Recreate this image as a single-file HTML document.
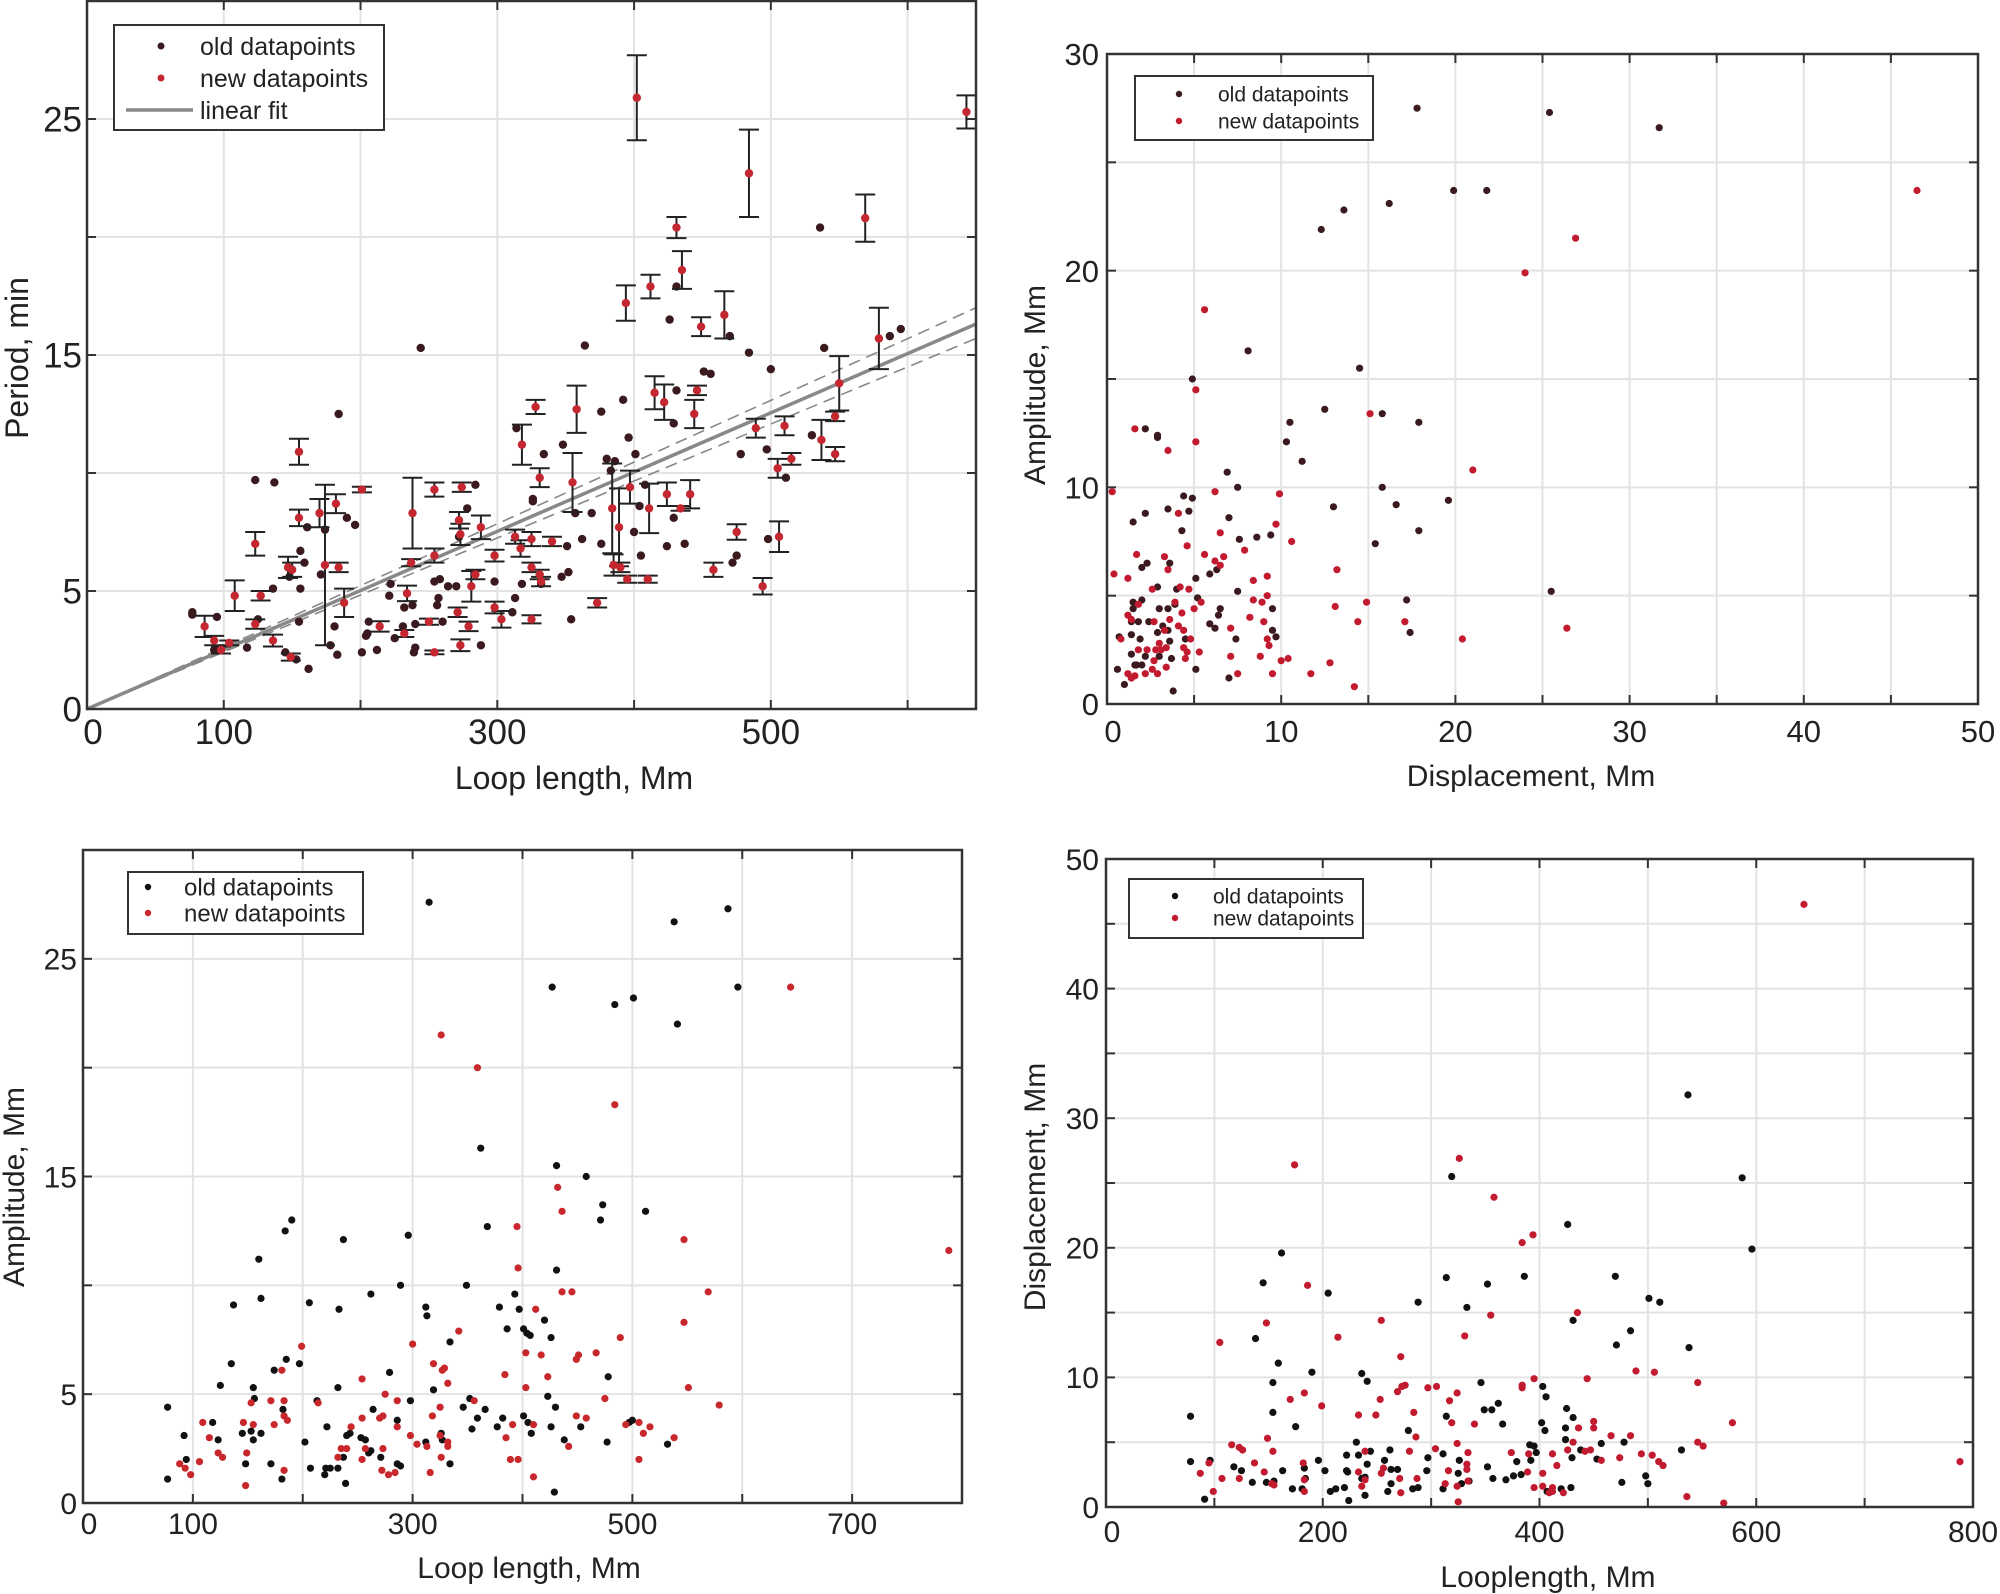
<!DOCTYPE html>
<html><head><meta charset="utf-8"><style>
html,body{margin:0;padding:0;background:#fff;}
svg{display:block;font-family:"Liberation Sans",sans-serif;}
</style></head><body>
<svg id="fig" width="2000" height="1594" viewBox="0 0 2000 1594" xmlns="http://www.w3.org/2000/svg"></svg>
<script>
// ---------- Panel 1: Period vs loop length ----------
const p1OldPts=[[536,20.4],[431,17.9],[426,16.5],[470,15.8],[484,15.1],[539,15.3],[244,15.3],[364,15.4],[500,14.4],[595,16.1],[587,15.8],[451,14.3],[456,14.2],[431,13.5],[392,13.1],[376,12.6],[184,12.5],[314,11.9],[429,12.1],[396,11.5],[530,11.6],[348,11.2],[401,10.8],[478,10.8],[497,11.0],[380,10.6],[386,10.5],[334,10.8],[123,9.7],[137,9.6],[511,9.8],[408,9.5],[284,9.5],[383,10.1],[326,8.9],[326,8.8],[404,8.6],[278,8.5],[369,8.3],[429,8.1],[357,8.3],[190,8.1],[196,7.8],[161,7.7],[174,7.6],[400,7.5],[498,7.2],[437,7.0],[424,6.9],[362,7.2],[272,7.3],[351,6.9],[376,7.0],[405,6.5],[475,6.5],[156,6.7],[472,6.2],[159,6.2],[171,5.7],[352,5.8],[347,5.6],[136,5.1],[148,5.6],[156,5.1],[222,5.3],[221,4.8],[264,5.2],[270,5.2],[254,5.4],[258,5.5],[257,4.7],[298,5.4],[318,5.3],[313,4.7],[232,4.3],[238,4.4],[256,4.4],[332,5.3],[77,4.1],[77,4.0],[95,3.9],[125,3.8],[155,3.7],[206,3.7],[240,3.6],[260,3.7],[311,4.1],[354,3.8],[205,3.2],[225,3.0],[231,3.5],[204,3.1],[117,2.6],[93,2.5],[181,3.5],[201,2.4],[212,2.5],[240,2.6],[288,2.7],[183,2.3],[145,2.4],[153,2.1],[162,1.7],[239,2.4],[178,2.7]];
const p1NewPts=[[402,25.9],[643,25.3],[484,22.7],[569,20.8],[431,20.4],[435,18.6],[412,17.9],[394,17.2],[466,16.7],[449,16.2],[579,15.7],[550,13.8],[415,13.4],[422,13.0],[446,13.5],[444,12.5],[358,12.7],[328,12.8],[547,12.4],[510,12.0],[489,11.9],[318,11.2],[155,10.9],[537,11.4],[547,10.8],[505,10.2],[515,10.6],[331,9.8],[355,9.6],[201,9.3],[238,8.3],[254,9.3],[274,9.4],[397,9.4],[424,9.1],[441,9.1],[411,8.5],[434,8.5],[384,8.5],[155,8.1],[174,6.1],[170,8.3],[182,8.7],[272,8.0],[288,7.7],[313,7.3],[273,7.4],[325,7.2],[340,7.1],[123,7.0],[389,7.7],[475,7.5],[506,7.3],[317,6.8],[254,6.5],[298,6.5],[237,6.2],[147,6.0],[150,5.9],[184,6.0],[325,6.0],[385,6.1],[390,6.0],[331,5.7],[332,5.4],[284,5.7],[458,5.9],[395,5.5],[410,5.5],[494,5.2],[281,5.2],[108,4.8],[127,4.8],[234,4.9],[271,4.1],[298,4.3],[373,4.5],[188,4.5],[214,3.5],[232,3.2],[250,3.7],[279,3.5],[303,3.8],[325,3.8],[86,3.5],[93,2.9],[104,2.8],[123,3.6],[136,2.9],[98,2.5],[149,2.2],[254,2.4],[273,2.7]];
const p1NewErr=[1.8,0.7,1.85,1.0,0.45,0.8,0.5,0.75,1.0,0.4,1.3,1.15,0.7,0.75,0.2,0.6,1.0,0.3,0.2,0.4,0.4,0.85,0.55,0.85,0.3,0.4,0.25,0.4,1.25,0.12,1.5,0.3,0.2,0.7,0.5,0.6,1.05,0.1,1.9,0.35,3.4,0.6,0.4,0.35,0.5,0.3,0.45,0.3,0.2,0.5,1.65,0.33,0.65,0.35,0.3,0.25,0.15,0.45,0.3,0.2,0.2,0.45,0.2,0.2,0.2,0.2,0.3,0.15,0.15,0.35,0.65,0.65,0.2,0.33,0.2,0.25,0.2,0.6,0.22,0.15,0.13,0.2,0.35,0.17,0.45,0.2,0.1,0.2,0.25,0.15,0.15,0.08,0.25];
const p1FitSlope=[0.0251];
const p1FitBandEnd=[17.0,15.7];
const p1XGrid=[100,200,300,400,500,600];
const p1XLabels=[0,100,300,500];
const p1YGrid=[5,10,15,20,25];
const p1YLabels=[0,5,15,25];

// ---------- Panel 2: Amplitude vs displacement ----------
const p2OldPts=[[17.8,27.5],[25.4,27.3],[31.7,26.6],[19.9,23.7],[21.8,23.7],[16.2,23.1],[13.6,22.8],[12.3,21.9],[8.1,16.3],[14.5,15.5],[4.9,15.0],[12.5,13.6],[15.8,13.4],[17.9,13.0],[10.5,13.0],[10.3,12.1],[11.2,11.2],[2.2,12.7],[2.9,12.4],[2.9,12.3],[6.9,10.7],[7.5,10.0],[15.8,10.0],[13.0,9.1],[16.6,9.2],[19.6,9.4],[4.4,9.6],[4.9,9.5],[3.5,9.0],[4.7,8.9],[2.2,8.8],[1.5,8.4],[7.0,8.6],[4.3,8.0],[7.6,7.6],[8.6,7.7],[9.4,7.8],[17.9,8.0],[15.4,7.4],[3.6,6.5],[2.3,6.5],[2.0,6.3],[6.3,6.2],[5.9,6.0],[5.1,5.8],[2.9,5.4],[4.0,5.3],[7.5,5.2],[25.5,5.2],[17.2,4.8],[5.2,4.9],[1.5,4.7],[2.0,4.8],[1.5,4.4],[3.0,4.4],[3.5,4.4],[9.5,4.4],[3.9,4.6],[6.4,4.1],[6.5,4.4],[2.4,3.8],[1.8,3.8],[1.4,3.8],[5.9,3.7],[6.2,3.5],[9.5,3.4],[17.4,3.3],[3.2,3.6],[3.5,3.4],[2.9,3.3],[0.7,3.1],[1.4,3.2],[1.9,3.0],[4.5,3.0],[7.4,3.0],[9.7,3.1],[3.6,2.9],[1.4,2.3],[2.2,2.2],[3.0,2.2],[3.7,2.1],[1.6,1.8],[1.7,1.8],[2.0,1.8],[5.1,1.6],[0.6,1.6],[1.4,1.2],[7.0,1.2],[1.0,0.9],[3.8,0.6]];
const p2NewPts=[[46.5,23.7],[26.9,21.5],[24.0,19.9],[5.6,18.2],[5.1,14.5],[15.1,13.4],[1.6,12.7],[5.1,12.1],[3.5,11.7],[21.0,10.8],[0.3,9.8],[6.2,9.8],[9.9,9.7],[4.1,8.8],[9.7,8.3],[6.5,7.9],[10.6,7.5],[4.6,7.3],[7.9,7.1],[1.7,6.9],[5.6,6.9],[6.7,6.8],[3.3,6.8],[6.2,6.6],[6.5,6.4],[3.5,6.2],[13.2,6.2],[0.4,6.0],[1.2,5.8],[9.2,5.9],[8.4,5.7],[2.6,5.3],[4.2,5.4],[4.7,5.3],[9.2,5.0],[3.9,4.7],[8.4,4.8],[8.9,4.7],[14.9,4.7],[5.4,4.7],[1.8,4.6],[5.0,4.4],[13.1,4.5],[1.2,4.1],[1.4,3.9],[4.3,4.2],[8.2,4.0],[9.0,3.8],[14.4,3.8],[17.1,3.8],[26.4,3.5],[2.7,3.8],[3.6,3.9],[4.1,3.6],[3.3,3.4],[4.4,3.4],[7.1,3.5],[0.8,3.0],[4.8,3.0],[9.2,3.0],[20.4,3.0],[9.3,2.7],[3.0,2.8],[3.4,2.6],[4.4,2.6],[1.8,2.5],[2.3,2.5],[2.8,2.5],[3.1,2.5],[4.6,2.4],[5.3,2.4],[7.1,2.2],[8.8,2.2],[4.5,2.1],[2.7,2.0],[10.0,2.0],[10.4,2.1],[12.8,1.9],[3.4,1.7],[2.6,1.6],[2.9,1.4],[2.2,1.4],[1.2,1.4],[1.6,1.3],[7.5,1.4],[9.5,1.4],[11.7,1.4],[1.4,1.2],[14.2,0.8]];
const p2XGrid=[5,10,15,20,25,30,35,40,45];
const p2XLabels=[0,10,20,30,40,50];
const p2YGrid=[5,10,15,20,25];
const p2YLabels=[0,10,20,30];

// ---------- Panel 3: Amplitude vs loop length ----------
const p3OldPts=[[315,27.6],[587,27.3],[538,26.7],[427,23.7],[596,23.7],[484,22.9],[501,23.2],[541,22.0],[362,16.3],[431,15.5],[458,15.0],[473,13.7],[471,13.0],[512,13.4],[368,12.7],[184,12.5],[190,13.0],[237,12.1],[296,12.3],[160,11.2],[431,10.7],[162,9.4],[137,9.1],[206,9.2],[262,9.6],[289,10.0],[349,10.0],[393,9.6],[233,8.9],[312,9.0],[313,8.6],[379,9.0],[397,8.9],[420,8.4],[386,8.0],[401,8.0],[404,7.8],[407,7.7],[426,7.6],[334,7.4],[135,6.4],[174,6.1],[185,6.6],[197,6.4],[125,5.4],[155,5.3],[279,6.0],[232,5.3],[319,5.2],[478,5.8],[156,4.8],[213,4.7],[298,4.7],[352,4.8],[423,4.9],[77,4.4],[182,4.3],[264,4.3],[346,4.4],[366,4.3],[430,4.4],[118,3.7],[359,3.9],[382,3.9],[401,4.0],[405,3.7],[286,3.8],[153,3.3],[145,3.2],[162,3.2],[222,3.5],[243,3.2],[253,3.0],[354,3.4],[377,3.5],[408,3.2],[426,3.5],[453,3.5],[92,3.1],[123,2.9],[155,2.9],[240,3.1],[257,2.9],[326,3.2],[327,2.9],[202,2.8],[312,2.8],[438,2.9],[477,2.8],[532,2.7],[497,3.7],[500,3.8],[262,2.4],[260,2.3],[271,2.1],[237,2.1],[94,2.0],[148,1.8],[171,1.8],[207,1.6],[221,1.6],[225,1.6],[232,1.6],[286,1.8],[289,1.7],[334,1.8],[220,1.3],[77,1.1],[181,1.1],[239,0.9],[429,0.5]];
const p3NewPts=[[644,23.7],[326,21.5],[359,20.0],[484,18.3],[432,14.5],[436,13.4],[395,12.7],[547,12.1],[788,11.6],[396,10.8],[436,9.7],[445,9.7],[569,9.7],[412,8.9],[547,8.3],[342,7.9],[489,7.6],[199,7.2],[300,7.3],[403,6.9],[417,6.8],[451,6.8],[467,6.9],[449,6.6],[319,6.4],[329,6.2],[327,6.1],[181,6.1],[384,5.9],[423,5.8],[254,5.7],[332,5.5],[275,5.0],[403,5.3],[551,5.3],[153,4.6],[171,4.7],[183,4.7],[214,4.6],[286,4.7],[356,4.7],[475,4.8],[325,4.4],[579,4.5],[109,3.7],[146,3.7],[155,3.6],[174,3.6],[183,4.0],[186,3.8],[254,3.9],[270,3.9],[273,4.0],[318,4.0],[449,4.0],[458,3.9],[506,3.7],[516,3.5],[494,3.6],[391,3.6],[410,3.6],[115,3.0],[286,3.5],[244,3.5],[298,3.1],[325,3.1],[332,2.8],[385,3.0],[510,3.2],[538,3.0],[123,2.3],[127,2.1],[149,2.3],[235,2.5],[240,2.5],[232,2.1],[257,2.5],[273,2.5],[304,2.7],[313,2.6],[332,2.6],[442,2.6],[88,1.8],[93,1.6],[106,1.9],[98,1.3],[183,1.5],[254,2.0],[326,2.1],[389,2.0],[396,2.0],[506,2.0],[272,1.5],[278,1.3],[284,1.4],[316,1.4],[148,0.8],[410,1.2]];
const p3XGrid=[100,200,300,400,500,600,700];
const p3XLabels=[0,100,300,500,700];
const p3YGrid=[5,10,15,20,25];
const p3YLabels=[0,5,15,25];

// ---------- Panel 4: Displacement vs loop length ----------
const p4OldPts=[[537,31.8],[587,25.4],[319,25.5],[596,19.9],[426,21.8],[162,19.6],[145,17.3],[314,17.7],[386,17.8],[470,17.8],[352,17.2],[205,16.5],[501,16.1],[511,15.8],[288,15.8],[333,15.4],[431,14.4],[484,13.6],[138,13.0],[471,12.5],[538,12.3],[159,11.1],[190,10.4],[236,10.3],[241,9.7],[154,9.6],[346,9.6],[403,9.3],[406,8.5],[362,8.0],[349,7.5],[356,7.5],[425,7.6],[154,7.3],[78,7.0],[314,7.0],[431,6.9],[175,6.2],[366,6.4],[402,6.5],[424,6.1],[279,5.9],[405,5.9],[231,5.0],[424,5.2],[478,5.0],[457,4.9],[391,4.8],[395,4.7],[244,4.3],[262,4.4],[438,4.4],[531,4.4],[397,4.2],[222,4.0],[233,4.0],[297,3.8],[311,4.1],[430,3.8],[453,3.7],[392,3.6],[78,3.5],[96,3.6],[196,3.6],[241,3.3],[257,3.6],[326,3.6],[379,3.5],[118,3.1],[125,2.8],[202,2.8],[222,2.8],[263,2.9],[269,2.9],[296,2.8],[352,3.1],[223,2.7],[325,2.6],[135,1.9],[148,1.9],[155,2.0],[163,2.8],[183,3.0],[236,2.2],[239,2.3],[184,2.2],[263,1.8],[328,1.8],[335,2.0],[357,2.2],[369,2.1],[376,2.4],[383,2.5],[476,1.9],[498,2.4],[500,1.8],[172,1.4],[181,1.4],[207,1.2],[212,1.4],[220,1.5],[260,1.2],[283,1.4],[288,1.5],[311,1.4],[407,1.2],[420,1.4],[429,1.5],[91,0.6],[224,0.5],[239,0.9]];
const p4NewPts=[[644,46.5],[326,26.9],[174,26.4],[358,23.9],[394,21.0],[384,20.4],[186,17.1],[254,14.4],[435,15.0],[355,14.8],[148,14.2],[331,13.2],[214,13.1],[105,12.7],[272,11.6],[489,10.5],[506,10.4],[444,9.9],[395,9.9],[546,9.6],[276,9.4],[273,9.3],[305,9.3],[297,9.2],[384,9.4],[384,9.2],[269,8.9],[324,8.8],[183,8.8],[170,8.3],[253,8.3],[317,8.2],[199,7.8],[284,7.3],[233,7.1],[249,7.1],[578,6.5],[319,6.5],[340,6.4],[450,6.6],[436,6.1],[450,6.1],[466,5.5],[484,5.5],[286,5.4],[149,5.3],[546,5.0],[431,5.0],[324,4.9],[551,4.7],[304,4.5],[116,4.8],[123,4.6],[126,4.4],[154,4.3],[239,4.3],[280,4.3],[426,4.4],[447,4.4],[442,4.3],[374,4.2],[334,4.2],[412,4.1],[494,4.1],[390,4.1],[504,4.0],[474,3.8],[457,3.6],[788,3.5],[510,3.5],[514,3.2],[95,3.4],[137,3.4],[182,3.4],[333,3.3],[416,3.2],[87,2.6],[146,2.7],[233,2.7],[254,2.6],[256,3.0],[333,2.9],[389,2.7],[403,2.6],[316,2.8],[107,2.2],[123,2.2],[183,2.1],[271,2.2],[287,2.2],[239,2.1],[313,1.8],[324,1.6],[153,1.8],[155,1.7],[236,1.6],[395,1.5],[403,1.6],[412,1.5],[334,2.0],[99,1.2],[183,1.2],[272,1.1],[409,1.1],[422,1.1],[412,1.2],[325,0.4],[536,0.8],[570,0.3]];
const p4XGrid=[100,200,300,400,500,600,700];
const p4XLabels=[0,200,400,600,800];
const p4YGrid=[5,10,15,20,25,30,35,40,45];
const p4YLabels=[0,10,20,30,40,50];

const NS="http://www.w3.org/2000/svg";
const svg=document.getElementById('fig');
function mk(tag,attrs,parent){const e=document.createElementNS(NS,tag);for(const k in attrs)e.setAttribute(k,attrs[k]);(parent||svg).appendChild(e);return e;}
function txt(s,attrs,parent){const e=mk('text',attrs,parent);e.textContent=s;return e;}

function panel(cfg){
  const g=mk('g',{});
  
  
  const sx=v=>cfg.x0+(v-cfg.xmin)/(cfg.xmax-cfg.xmin)*(cfg.x1-cfg.x0);
  const sy=v=>cfg.y0-(v-cfg.ymin)/(cfg.ymax-cfg.ymin)*(cfg.y0-cfg.y1);
  cfg.xGrid.forEach(v=>{const l=mk('line',{x1:sx(v),x2:sx(v),y1:cfg.y1,y2:cfg.y0,stroke:'#e3e3e3','stroke-width':2},g);
    
    mk('line',{x1:sx(v),x2:sx(v),y1:cfg.y0,y2:cfg.y0-9,stroke:'#333','stroke-width':2},g);
    mk('line',{x1:sx(v),x2:sx(v),y1:cfg.y1,y2:cfg.y1+9,stroke:'#333','stroke-width':2},g);});
  cfg.yGrid.forEach(v=>{const l=mk('line',{x1:cfg.x0,x2:cfg.x1,y1:sy(v),y2:sy(v),stroke:'#e3e3e3','stroke-width':2},g);
    
    mk('line',{x1:cfg.x0,x2:cfg.x0+9,y1:sy(v),y2:sy(v),stroke:'#333','stroke-width':2},g);
    mk('line',{x1:cfg.x1,x2:cfg.x1-9,y1:sy(v),y2:sy(v),stroke:'#333','stroke-width':2},g);});
  cfg.xLabels.forEach(v=>{const t=txt(String(v),{x:sx(v)+(v===cfg.xmin?6:0),y:cfg.xLabY,'text-anchor':'middle','font-size':cfg.tickFs,fill:'#222'},g);
    });
  cfg.yLabels.forEach(v=>{const t=txt(String(v),{x:cfg.yLabX,y:sy(v)+cfg.tickFs*0.36,'text-anchor':'end','font-size':cfg.tickFs,fill:'#222'},g);
    });
  const xt=txt(cfg.xTitle,{x:cfg.xTitleX,y:cfg.xTitleY,'text-anchor':'middle','font-size':cfg.titleFs,fill:'#222'},g);
  
  const yt=txt(cfg.yTitle,{x:0,y:0,'text-anchor':'middle','font-size':cfg.titleFs,fill:'#222',transform:`translate(${cfg.yTitleX},${cfg.yTitleY}) rotate(-90)`},g);
  
  return {g,sx,sy};
}
function box(cfg,g){
  const r=mk('rect',{x:cfg.x0,y:cfg.y1,width:cfg.x1-cfg.x0,height:cfg.y0-cfg.y1,fill:'none',stroke:'#333','stroke-width':2.5},g);
  
}
function dots(pts,sx,sy,color,r,g,name){
  pts.forEach(p=>{const c=mk('circle',{cx:sx(p[0]),cy:sy(p[1]),r:r,fill:color},g);
    });
}
function legend(g,L){
  const lg=mk('g',{},g);
  
  
  mk('rect',{x:L.x,y:L.y,width:L.w,height:L.h,fill:'#fff',stroke:'#333','stroke-width':2},lg);
  L.items.forEach(it=>{
    if(it.line){mk('line',{x1:L.lx1,x2:L.lx2,y1:it.y,y2:it.y,stroke:'#888','stroke-width':3.5},lg);}
    else{mk('circle',{cx:L.mx,cy:it.y,r:L.r,fill:it.color},lg);}
    const t=txt(it.label,{x:L.tx,y:it.y+L.fs*0.36,'font-size':L.fs,fill:'#222'},lg);
    
  });
}

// Panel 1
const c1={name:'period-vs-length-panel',x0:87,x1:976,y0:709,y1:1,xmin:0,xmax:650,ymin:0,ymax:30,xGrid:p1XGrid,yGrid:p1YGrid,xLabels:p1XLabels,yLabels:p1YLabels,
  tickFs:35,titleFs:32,xLabY:744,yLabX:82,xTitle:'Loop length, Mm',xTitleX:574,xTitleY:789,yTitle:'Period, min',yTitleX:28,yTitleY:358};
const P1=panel(c1);
(function(){
  const {g,sx,sy}=P1;
  const slope=p1FitSlope[0];const xe=c1.xmax;
  const fit=mk('line',{x1:sx(0),y1:sy(0),x2:sx(xe),y2:sy(slope*xe),stroke:'#888','stroke-width':3.5},g);
  
  p1FitBandEnd.forEach(v=>{const b=mk('line',{x1:sx(0),y1:sy(0),x2:sx(xe),y2:sy(v),stroke:'#888','stroke-width':1.6,'stroke-dasharray':'12,7'},g);
    });
  dots(p1OldPts,sx,sy,'#3a1a1e',4.2,g,'old-datapoint');
  p1NewPts.forEach((p,i)=>{const e=p1NewErr[i];const x=sx(p[0]);
    const eb=mk('g',{},g);
    
    
    mk('line',{x1:x,x2:x,y1:sy(p[1]-e),y2:sy(p[1]+e),stroke:'#222','stroke-width':2},eb);
    mk('line',{x1:x-10,x2:x+10,y1:sy(p[1]-e),y2:sy(p[1]-e),stroke:'#222','stroke-width':2},eb);
    mk('line',{x1:x-10,x2:x+10,y1:sy(p[1]+e),y2:sy(p[1]+e),stroke:'#222','stroke-width':2},eb);});
  dots(p1NewPts,sx,sy,'#c4272f',4.2,g,'new-datapoint');
  box(c1,g);
  legend(g,{x:114,y:25,w:270,h:105,fs:25,mx:161,r:3.5,tx:200,lx1:126,lx2:193,items:[
    {label:'old datapoints',y:46,color:'#3a1a1e'},{label:'new datapoints',y:78,color:'#c4272f'},{label:'linear fit',y:110,line:true}]});
})();

// Panel 2
const c2={name:'amplitude-vs-displacement-panel',x0:1107,x1:1978,y0:704,y1:54,xmin:0,xmax:50,ymin:0,ymax:30,xGrid:p2XGrid,yGrid:p2YGrid,xLabels:p2XLabels,yLabels:p2YLabels,
  tickFs:31,titleFs:30,xLabY:742,yLabX:1099,xTitle:'Displacement, Mm',xTitleX:1531,xTitleY:786,yTitle:'Amplitude, Mm',yTitleX:1045,yTitleY:385};
const P2=panel(c2);
dots(p2OldPts,P2.sx,P2.sy,'#3a1a1e',3.6,P2.g,'old-datapoint');
dots(p2NewPts,P2.sx,P2.sy,'#c21a2e',3.6,P2.g,'new-datapoint');
box(c2,P2.g);
legend(P2.g,{x:1135,y:76,w:238,h:64,fs:21,mx:1179,r:3.2,tx:1218,items:[{label:'old datapoints',y:94,color:'#3a1a1e'},{label:'new datapoints',y:121,color:'#c21a2e'}]});

// Panel 3
const c3={name:'amplitude-vs-length-panel',x0:83,x1:962,y0:1503,y1:850,xmin:0,xmax:800,ymin:0,ymax:30,xGrid:p3XGrid,yGrid:p3YGrid,xLabels:p3XLabels,yLabels:p3YLabels,
  tickFs:30,titleFs:30,xLabY:1534,yLabX:77,xTitle:'Loop length, Mm',xTitleX:529,xTitleY:1578,yTitle:'Amplitude, Mm',yTitleX:24,yTitleY:1187};
const P3=panel(c3);
dots(p3OldPts,P3.sx,P3.sy,'#111',3.6,P3.g,'old-datapoint');
dots(p3NewPts,P3.sx,P3.sy,'#c8282c',3.6,P3.g,'new-datapoint');
box(c3,P3.g);
legend(P3.g,{x:128,y:872,w:235,h:62,fs:24,mx:148,r:3.2,tx:184,items:[{label:'old datapoints',y:887,color:'#111'},{label:'new datapoints',y:913,color:'#c8282c'}]});

// Panel 4
const c4={name:'displacement-vs-length-panel',x0:1106,x1:1973,y0:1507,y1:859,xmin:0,xmax:800,ymin:0,ymax:50,xGrid:p4XGrid,yGrid:p4YGrid,xLabels:p4XLabels,yLabels:p4YLabels,
  tickFs:30,titleFs:30,xLabY:1542,yLabX:1099,xTitle:'Looplength, Mm',xTitleX:1548,xTitleY:1587,yTitle:'Displacement, Mm',yTitleX:1045,yTitleY:1187};
const P4=panel(c4);
dots(p4OldPts,P4.sx,P4.sy,'#111',3.6,P4.g,'old-datapoint');
dots(p4NewPts,P4.sx,P4.sy,'#c21a2e',3.6,P4.g,'new-datapoint');
box(c4,P4.g);
legend(P4.g,{x:1129,y:879,w:234,h:59,fs:21,mx:1175,r:3.2,tx:1213,items:[{label:'old datapoints',y:896,color:'#111'},{label:'new datapoints',y:918,color:'#c21a2e'}]});
</script>
</body></html>
